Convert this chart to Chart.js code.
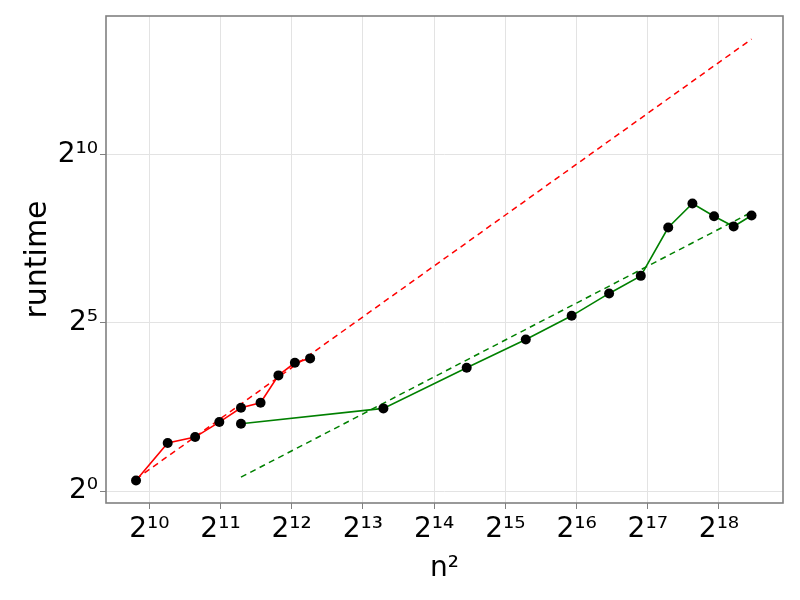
<!DOCTYPE html>
<html>
<head>
<meta charset="utf-8">
<script src="https://cdn.jsdelivr.net/npm/chart.js@4/dist/chart.umd.min.js"></script>
<style>
  html, body { margin: 0; padding: 0; background: #ffffff; }
  #wrap { width: 800px; height: 600px; }
</style>
</head>
<body>
<div id="wrap"><canvas id="c" width="800" height="600"></canvas></div>
<script>
// n^2 values and runtimes
const redX = [900, 1225, 1600, 2025, 2500, 3025, 3600, 4225, 4900];
const redY = [1.24, 2.69, 3.04, 4.14, 5.56, 6.17, 10.84, 14.05, 15.39];
const greenX = [2500, 10000, 22500, 40000, 62500, 90000, 122500, 160000, 202500, 250000, 302500, 360000];
const greenY = [4.0, 5.49, 12.68, 22.75, 37.0, 58.7, 84.3, 228.5, 374.8, 288.4, 233.3, 292.7];
// fitted power-law lines (endpoints)
const redFitX = [900, 360000];
const redFitY = [1.28, 11100];
const greenFitX = [2500, 360000];
const greenFitY = [1.33, 313];
// ticks
const xTickValues = [1024, 2048, 4096, 8192, 16384, 32768, 65536, 131072, 262144];
const xTickLabels = ['2¹⁰', '2¹¹', '2¹²', '2¹³', '2¹⁴', '2¹⁵', '2¹⁶', '2¹⁷', '2¹⁸'];
const yTickValues = [1, 32, 1024];
const yTickLabels = ['2⁰', '2⁵', '2¹⁰'];

const toPts = (xs, ys) => xs.map((x, i) => ({ x: x, y: ys[i] }));

const frame = {
  id: 'frame',
  afterDatasetsDraw(chart) {
    const a = chart.chartArea, ctx = chart.ctx;
    ctx.save();
    ctx.strokeStyle = '#808080';
    ctx.lineWidth = 1.6;
    ctx.strokeRect(a.left, a.top, a.right - a.left, a.bottom - a.top);
    ctx.restore();
  }
};

const FONT = 'DejaVu Sans';

new Chart(document.getElementById('c'), {
  type: 'scatter',
  data: {
    datasets: [
      { data: toPts(redX, redY), showLine: true, borderColor: '#ff0000', borderWidth: 1.6,
        pointRadius: 5, pointBackgroundColor: '#000000', pointBorderColor: '#000000', pointBorderWidth: 0 },
      { data: toPts(greenX, greenY), showLine: true, borderColor: '#008000', borderWidth: 1.6,
        pointRadius: 5, pointBackgroundColor: '#000000', pointBorderColor: '#000000', pointBorderWidth: 0 },
      { data: toPts(redFitX, redFitY), showLine: true, borderColor: '#ff0000', borderWidth: 1.5,
        borderDash: [6, 4.5], pointRadius: 0 },
      { data: toPts(greenFitX, greenFitY), showLine: true, borderColor: '#008000', borderWidth: 1.5,
        borderDash: [6, 4.5], pointRadius: 0 }
    ]
  },
  options: {
    responsive: false,
    animation: false,
    devicePixelRatio: 1,
    layout: { padding: { top: 15, right: 17, left: 0, bottom: 0 } },
    plugins: { legend: { display: false }, tooltip: { enabled: false } },
    scales: {
      x: {
        type: 'logarithmic',
        min: 672, max: 489000,
        afterBuildTicks: (s) => { s.ticks = xTickValues.map(v => ({ value: v })); },
        afterFit: (s) => { s.height = 97; },
        ticks: {
          autoSkip: false, maxRotation: 0, padding: 4, color: '#000000',
          font: { family: FONT, size: 28 },
          callback: (v) => { const i = xTickValues.indexOf(v); return i >= 0 ? xTickLabels[i] : ''; }
        },
        grid: { color: '#e3e3e3', lineWidth: 1, tickLength: 6, tickColor: '#808080', drawTicks: true },
        border: { display: false },
        title: { display: true, text: 'n²', color: '#000000', font: { family: FONT, size: 28 }, padding: { top: 0, bottom: 14 } }
      },
      y: {
        type: 'logarithmic',
        min: 0.781, max: 17870,
        afterBuildTicks: (s) => { s.ticks = yTickValues.map(v => ({ value: v })); },
        afterFit: (s) => { s.width = 106; },
        ticks: {
          autoSkip: false, padding: 2, color: '#000000',
          font: { family: FONT, size: 28, lineHeight: 1 },
          callback: (v) => { const i = yTickValues.indexOf(v); return i >= 0 ? yTickLabels[i] : ''; }
        },
        grid: { color: '#e3e3e3', lineWidth: 1, tickLength: 6, tickColor: '#808080', drawTicks: true },
        border: { display: false },
        title: { display: true, text: 'runtime', color: '#000000', font: { family: FONT, size: 30 }, padding: { top: 20, bottom: 0 } }
      }
    }
  },
  plugins: [frame]
});
</script>
</body>
</html>
